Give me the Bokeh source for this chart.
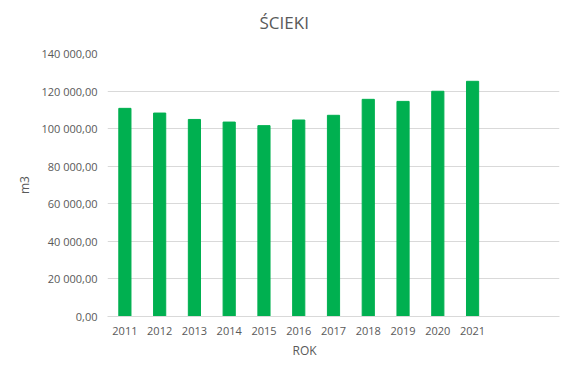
from bokeh.plotting import figure
from bokeh.models import Range1d, FixedTicker, Title
from bokeh.embed import file_html
from bokeh.resources import INLINE

# ---- data ----
years = ["2011", "2012", "2013", "2014", "2015", "2016", "2017", "2018", "2019", "2020", "2021"]
wastewater_m3 = [110800, 108300, 104900, 103500, 101600, 104600, 107100, 115600, 114500, 119900, 125200]
y_ticks = [0, 20000, 40000, 60000, 80000, 100000, 120000, 140000]
y_tick_labels = ["0,00", "20 000,00", "40 000,00", "60 000,00", "80 000,00",
                 "100 000,00", "120 000,00", "140 000,00"]
n_slots = 13  # category slots on the axis (two empty ones at the right)

TEXT = "#595959"
GRID = "#d9d9d9"
FONT = "Open Sans"

p = figure(width=562, height=366, output_backend="svg", toolbar_location=None,
           title_location=None,
           x_range=Range1d(-0.5, n_slots - 0.5), y_range=Range1d(0, 140000),
           min_border_left=107, min_border_right=3, min_border_top=53, min_border_bottom=50)
p.outline_line_color = None
p.background_fill_color = "white"
p.border_fill_color = "white"

# spacer between frame and chart title, then the title itself
p.add_layout(Title(text=" ", text_font_size="1px", standoff=17), "above")
p.add_layout(Title(text="ŚCIEKI", align="left", offset=152, standoff=0, text_font=FONT,
                   text_font_size="17px", text_font_style="normal", text_color=TEXT), "above")

xs = list(range(len(years)))
p.vbar(x=xs, top=wastewater_m3, width=0.35, color="#00B050")

# y axis
p.yaxis.ticker = FixedTicker(ticks=y_ticks)
p.yaxis.major_label_overrides = {t: l for t, l in zip(y_ticks, y_tick_labels)}
p.yaxis.axis_line_color = None
p.yaxis.major_tick_line_color = None
p.yaxis.minor_tick_line_color = None
p.yaxis.major_label_standoff = 4
p.yaxis.major_label_text_font = FONT
p.yaxis.major_label_text_font_size = "11px"
p.yaxis.major_label_text_color = TEXT
p.yaxis.axis_label = "m3"
p.yaxis.axis_label_text_font = FONT
p.yaxis.axis_label_text_font_size = "12px"
p.yaxis.axis_label_text_font_style = "normal"
p.yaxis.axis_label_text_color = TEXT
p.yaxis.axis_label_standoff = 5

# x axis
p.xaxis.ticker = FixedTicker(ticks=xs)
p.xaxis.major_label_overrides = {i: y for i, y in zip(xs, years)}
p.xaxis.axis_line_color = GRID
p.xaxis.major_tick_line_color = None
p.xaxis.minor_tick_line_color = None
p.xaxis.major_label_standoff = 4
p.xaxis.major_label_text_font = FONT
p.xaxis.major_label_text_font_size = "11px"
p.xaxis.major_label_text_color = TEXT

p.add_layout(Title(text="ROK", align="left", offset=185, standoff=4, text_font=FONT,
                   text_font_size="12px", text_font_style="normal", text_color=TEXT), "below")

p.xgrid.grid_line_color = None
p.ygrid.grid_line_color = GRID
p.ygrid.grid_line_width = 1

open("out.html", "w").write(file_html(p, INLINE))
